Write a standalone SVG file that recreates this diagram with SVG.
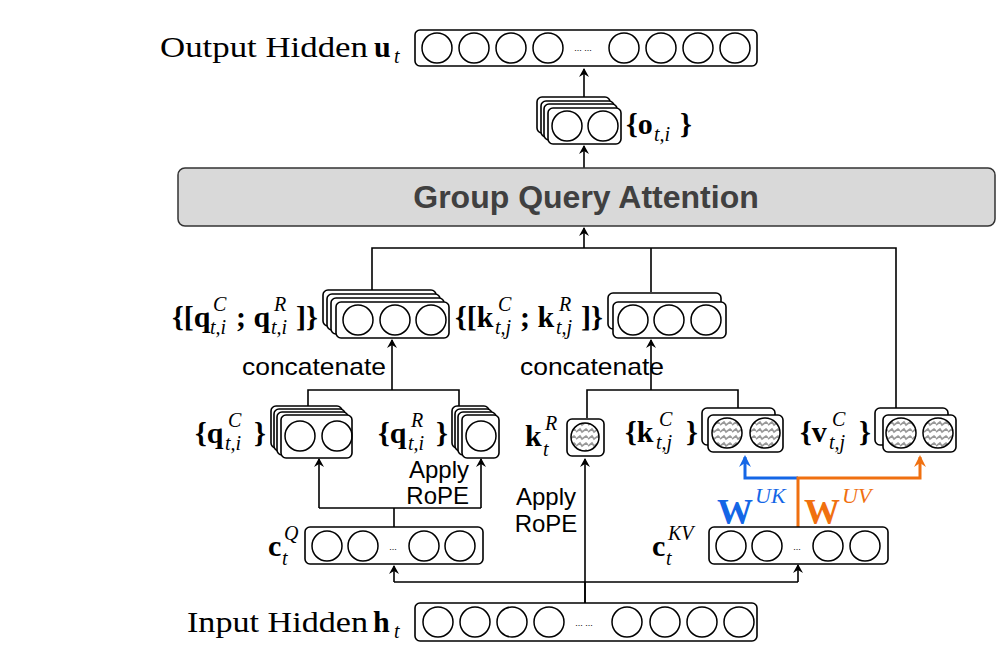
<svg xmlns="http://www.w3.org/2000/svg" width="997" height="672" viewBox="0 0 997 672">
<style>
.b{fill:#fff;stroke:#000;stroke-width:1.6}
.c{fill:none;stroke:#000;stroke-width:1.5}
.h{fill:url(#hat);stroke:#000;stroke-width:1.5}
.ln{fill:none;stroke:#000;stroke-width:1.6}
.m{font-family:"Liberation Serif",serif;font-size:30px;fill:#000}
.mb{font-weight:bold}
.s{font-family:"Liberation Serif",serif;font-size:20px;font-style:italic;fill:#000}
.t{font-family:"Liberation Sans",sans-serif;font-size:24px;fill:#000}
.d{font-family:"Liberation Sans",sans-serif;font-size:9px;fill:#000}
</style>
<defs>
<pattern id="hat" width="12" height="7" patternUnits="userSpaceOnUse">
<rect width="12" height="7" fill="#fff"/>
<path d="M0,5 L4,2 L6,5 L10,2 L12,4" fill="none" stroke="#999" stroke-width="1.6"/>
</pattern>
<marker id="a" markerWidth="10" markerHeight="10" refX="8" refY="5" orient="auto" markerUnits="userSpaceOnUse"><path d="M0,0 L9,5 L0,10 L3,5 z" fill="#000"/></marker>
<marker id="ab" markerWidth="14" markerHeight="14" refX="10" refY="7" orient="auto" markerUnits="userSpaceOnUse"><path d="M0,1 L12,7 L0,13 L4,7 z" fill="#1466e6"/></marker>
<marker id="ao" markerWidth="14" markerHeight="14" refX="10" refY="7" orient="auto" markerUnits="userSpaceOnUse"><path d="M0,1 L12,7 L0,13 L4,7 z" fill="#f07010"/></marker>
</defs>

<g id="connectors">
<path class="ln" d="M585,603 V582 M394,582 H798" />
<path class="ln" d="M394,582 V566" marker-end="url(#a)"/>
<path class="ln" d="M798,582 V565" marker-end="url(#a)"/>
<path class="ln" d="M585,603 V459" marker-end="url(#a)"/>
<path class="ln" d="M394,527 V508 M319,508 H481"/>
<path class="ln" d="M319,508 V459" marker-end="url(#a)"/>
<path class="ln" d="M481,508 V459" marker-end="url(#a)"/>
<path class="ln" d="M308,406 V390 H459 V406 M392,390 V340" marker-end="url(#a)"/>
<path class="ln" d="M587,418 V390 H738 V408 M651,390 V340" marker-end="url(#a)"/>
<path class="ln" d="M372,290 V248 H896 V408 M651,248 V292 M584,248 V228" marker-end="url(#a)"/>
<path class="ln" d="M584,168 V146" marker-end="url(#a)"/>
<path class="ln" d="M584,97 V69" marker-end="url(#a)"/>
<path d="M798,478 H745 V457" fill="none" stroke="#1466e6" stroke-width="3" marker-end="url(#ab)"/>
<path d="M798,527 V478 H920 V457" fill="none" stroke="#f07010" stroke-width="3" marker-end="url(#ao)"/>
</g>

<g id="output-hidden">
<rect class="b" x="415" y="30" width="342" height="36" rx="5"/>
<circle class="c" cx="437" cy="48" r="15"/><circle class="c" cx="474" cy="48" r="15"/><circle class="c" cx="511" cy="48" r="15"/><circle class="c" cx="548" cy="48" r="15"/>
<text class="d" x="583" y="51" text-anchor="middle">... ...</text>
<circle class="c" cx="624" cy="48" r="15"/><circle class="c" cx="661" cy="48" r="15"/><circle class="c" cx="698" cy="48" r="15"/><circle class="c" cx="735" cy="48" r="15"/>
<text class="m" x="160" y="57" textLength="208" lengthAdjust="spacingAndGlyphs">Output Hidden</text>
<text class="m mb" x="374" y="57">u</text>
<text class="s" x="394" y="63">t</text>
</g>

<g id="o-heads">
<rect class="b" x="537" y="97" width="73" height="36" rx="5"/>
<rect class="b" x="541" y="101" width="73" height="36" rx="5"/>
<rect class="b" x="544" y="104" width="73" height="36" rx="5"/>
<rect class="b" x="548" y="108" width="73" height="36" rx="5"/>
<circle class="c" cx="567" cy="126" r="15"/><circle class="c" cx="603" cy="126" r="15"/>
<text class="m mb" x="626" y="134">{o</text>
<text class="s" x="654" y="141">t,i</text>
<text class="m mb" x="680" y="134">}</text>
</g>

<g id="gqa">
<rect x="178" y="168" width="817" height="58" rx="7" fill="#d9d9d9" stroke="#333" stroke-width="1.5"/>
<text x="586" y="208" text-anchor="middle" font-family="Liberation Sans, sans-serif" font-size="32" font-weight="bold" fill="#404040">Group Query Attention</text>
</g>

<g id="q-concat">
<rect class="b" x="323" y="290" width="113" height="36" rx="5"/>
<rect class="b" x="327" y="294" width="113" height="36" rx="5"/>
<rect class="b" x="331" y="298" width="113" height="36" rx="5"/>
<rect class="b" x="336" y="302" width="113" height="36" rx="5"/>
<circle class="c" cx="358" cy="320" r="15"/><circle class="c" cx="395" cy="320" r="15"/><circle class="c" cx="431" cy="320" r="15"/>
<text class="m mb" x="172" y="327">{[q</text>
<text class="s" x="213" y="311">C</text><text class="s" x="210" y="334">t,i</text>
<text class="m mb" x="236" y="327">; q</text>
<text class="s" x="274" y="311">R</text><text class="s" x="271" y="334">t,i</text>
<text class="m mb" x="296" y="327">]}</text>
</g>

<g id="k-concat">
<rect class="b" x="608" y="293" width="113" height="36" rx="5"/>
<rect class="b" x="613" y="302" width="113" height="36" rx="5"/>
<circle class="c" cx="633" cy="320" r="15"/><circle class="c" cx="669" cy="320" r="15"/><circle class="c" cx="706" cy="320" r="15"/>
<text class="m mb" x="455" y="327">{[k</text>
<text class="s" x="498" y="311">C</text><text class="s" x="495" y="334">t,j</text>
<text class="m mb" x="520" y="327">; k</text>
<text class="s" x="559" y="311">R</text><text class="s" x="556" y="334">t,j</text>
<text class="m mb" x="581" y="327">]}</text>
</g>

<text class="t" x="242" y="375" textLength="144" lengthAdjust="spacingAndGlyphs">concatenate</text>
<text class="t" x="520" y="375" textLength="144" lengthAdjust="spacingAndGlyphs">concatenate</text>

<g id="qC">
<rect class="b" x="271" y="406" width="71" height="42" rx="5"/>
<rect class="b" x="274" y="409" width="71" height="42" rx="5"/>
<rect class="b" x="277" y="412" width="71" height="43" rx="5"/>
<rect class="b" x="281" y="415" width="71" height="43" rx="5"/>
<circle class="c" cx="300" cy="436" r="15"/><circle class="c" cx="337" cy="436" r="15"/>
<text class="m mb" x="195" y="443">{q</text>
<text class="s" x="228" y="427">C</text><text class="s" x="225" y="450">t,i</text>
<text class="m mb" x="254" y="443">}</text>
</g>

<g id="qR">
<rect class="b" x="452" y="406" width="37" height="42" rx="5"/>
<rect class="b" x="455" y="409" width="37" height="42" rx="5"/>
<rect class="b" x="458" y="412" width="38" height="43" rx="5"/>
<rect class="b" x="462" y="415" width="37" height="43" rx="5"/>
<circle class="c" cx="481" cy="436" r="15"/>
<text class="m mb" x="378" y="443">{q</text>
<text class="s" x="411" y="427">R</text><text class="s" x="408" y="450">t,i</text>
<text class="m mb" x="436" y="443">}</text>
</g>

<g id="kR">
<rect class="b" x="567" y="419" width="37" height="37" rx="5"/>
<circle class="h" cx="585" cy="437" r="14"/>
<text class="m mb" x="525" y="446">k</text>
<text class="s" x="545" y="430">R</text><text class="s" x="543" y="456">t</text>
</g>

<g id="kC">
<rect class="b" x="702" y="408" width="73" height="37" rx="5"/>
<rect class="b" x="708" y="415" width="75" height="37" rx="5"/>
<circle class="h" cx="727" cy="433" r="15"/><circle class="h" cx="765" cy="433" r="15"/>
<text class="m mb" x="625" y="442">{k</text>
<text class="s" x="659" y="426">C</text><text class="s" x="656" y="449">t,j</text>
<text class="m mb" x="686" y="442">}</text>
</g>

<g id="vC">
<rect class="b" x="875" y="408" width="73" height="37" rx="5"/>
<rect class="b" x="883" y="415" width="73" height="37" rx="5"/>
<circle class="h" cx="901" cy="433" r="15"/><circle class="h" cx="938" cy="433" r="15"/>
<text class="m mb" x="800" y="442">{v</text>
<text class="s" x="832" y="426">C</text><text class="s" x="829" y="449">t,j</text>
<text class="m mb" x="859" y="442">}</text>
</g>

<text class="t" x="469" y="478" text-anchor="end">Apply</text>
<text class="t" x="469" y="504" text-anchor="end">RoPE</text>
<text class="t" x="546" y="505" text-anchor="middle">Apply</text>
<text class="t" x="546" y="532" text-anchor="middle">RoPE</text>

<g id="w-labels">
<text x="717" y="524" font-family="Liberation Serif, serif" font-size="36" font-weight="bold" fill="#1466e6">W</text>
<text x="755" y="503" font-family="Liberation Serif, serif" font-size="22" font-style="italic" fill="#1466e6">UK</text>
<text x="804" y="524" font-family="Liberation Serif, serif" font-size="36" font-weight="bold" fill="#f07010">W</text>
<text x="842" y="503" font-family="Liberation Serif, serif" font-size="22" font-style="italic" fill="#f07010">UV</text>
</g>

<g id="cQ">
<rect class="b" x="305" y="527" width="178" height="37" rx="5"/>
<circle class="c" cx="327" cy="546" r="15"/><circle class="c" cx="363" cy="546" r="15"/>
<text class="d" x="393" y="550" text-anchor="middle">...</text>
<circle class="c" cx="424" cy="546" r="15"/><circle class="c" cx="460" cy="546" r="15"/>
<text class="m mb" x="268" y="556">c</text>
<text class="s" x="284" y="540">Q</text><text class="s" x="282" y="565">t</text>
</g>

<g id="cKV">
<rect class="b" x="709" y="527" width="179" height="37" rx="5"/>
<circle class="c" cx="731" cy="546" r="15"/><circle class="c" cx="767" cy="546" r="15"/>
<text class="d" x="797" y="550" text-anchor="middle">...</text>
<circle class="c" cx="828" cy="546" r="15"/><circle class="c" cx="865" cy="546" r="15"/>
<text class="m mb" x="652" y="556">c</text>
<text class="s" x="668" y="540">KV</text><text class="s" x="666" y="565">t</text>
</g>

<g id="input-hidden">
<rect class="b" x="415" y="603" width="342" height="38" rx="5"/>
<circle class="c" cx="438" cy="622" r="15"/><circle class="c" cx="475" cy="622" r="15"/><circle class="c" cx="512" cy="622" r="15"/><circle class="c" cx="549" cy="622" r="15"/>
<text class="d" x="584" y="626" text-anchor="middle">... ...</text>
<circle class="c" cx="627" cy="622" r="15"/><circle class="c" cx="665" cy="622" r="15"/><circle class="c" cx="702" cy="622" r="15"/><circle class="c" cx="739" cy="622" r="15"/>
<text class="m" x="187" y="632" textLength="181" lengthAdjust="spacingAndGlyphs">Input Hidden</text>
<text class="m mb" x="373" y="632">h</text>
<text class="s" x="394" y="638">t</text>
</g>
</svg>
